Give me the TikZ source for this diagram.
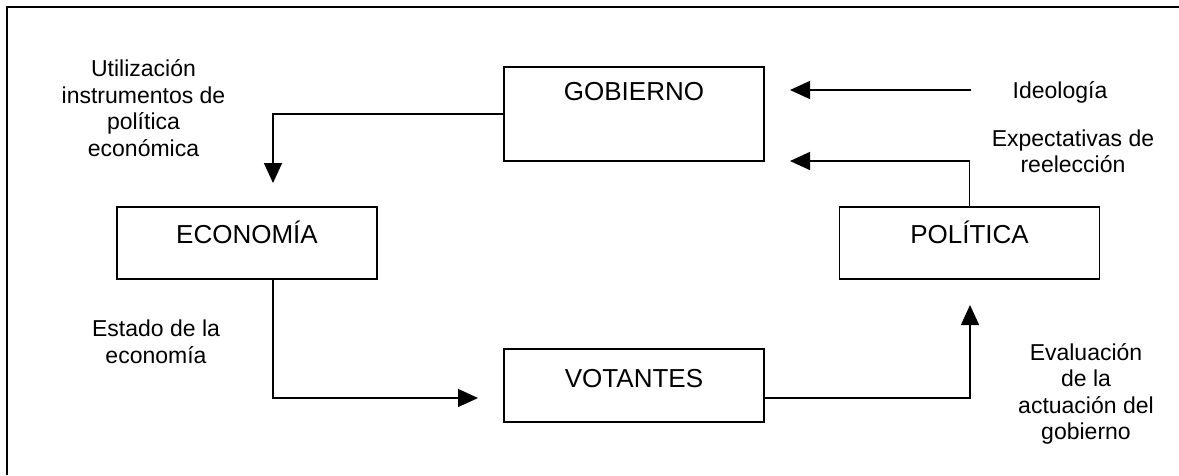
\documentclass[tikz,border=0pt]{standalone}
\usepackage{fontspec}
\setmainfont{Liberation Sans}
\usetikzlibrary{arrows.meta}

\begin{document}
\begin{tikzpicture}[x=1pt,y=-1pt,
  caja/.style={draw,line width=1.6pt,inner sep=0pt,minimum width=260pt,font=\fontsize{26}{30}\selectfont},
  nota/.style={align=center,inner sep=0pt,font=\fontsize{23}{26.5}\selectfont},
  flecha/.style={line width=1.5pt,-{Triangle[length=20pt,width=18pt]}}]
  \useasboundingbox (0,0) rectangle (1179,475);
  \draw[line width=2pt] (1179,7) -- (7,7) -- (7,475);
      \node[caja,text height=33pt,text depth=61pt,anchor=base] (gob) at (634,100) {GOBIERNO};
      \node[caja,text height=36pt,text depth=36pt,anchor=base] (eco) at (247,243) {ECONOMÍA};
      \node[caja,text height=36pt,text depth=36pt,anchor=base] (pol) at (969.5,243) {POLÍTICA};
      \node[caja,text height=38pt,text depth=35pt,anchor=base] (vot) at (634,387) {VOTANTES};
  \coordinate (ecoin) at (273,183);
  \coordinate (votin) at (478,398);
  \coordinate (polin) at (970,305);
  \coordinate (gobin) at (790,161);
  \coordinate (ideout) at (971,90);
  \coordinate (ideoin) at (790,90);
      \draw[flecha] (gob.west) -| (ecoin);
      \draw[flecha] (eco.south -| ecoin) |- (votin);
      \draw[flecha] (vot.east |- votin) -| (polin);
      \draw[flecha] (pol.north) |- (gobin);
      \draw[flecha] (ideout) -- (ideoin);
  \node[nota] (util) at (143.5,108) {Utilización\\instrumentos de\\política\\económica};
  \node[nota] (estado) at (156,342) {Estado de la\\economía};
  \node[nota,anchor=base] (ideo) at (1060,98) {Ideología};
  \node[nota] (expec) at (1073,151.5) {Expectativas de\\reelección};
  \node[nota] (eval) at (1086,394) {Evaluación\\de la\\actuación del\\gobierno};
\end{tikzpicture}
\end{document}
